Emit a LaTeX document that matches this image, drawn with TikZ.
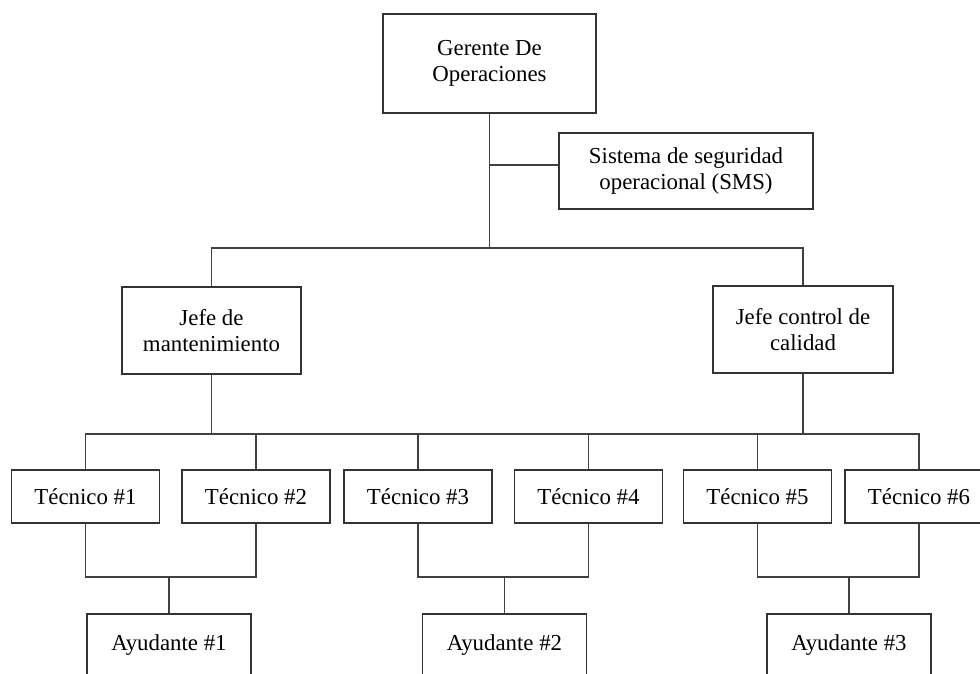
\documentclass[tikz,border=0pt]{standalone}
\usepackage{fontspec}
\setmainfont{Liberation Serif}
\usepackage{tikz}

\tikzset{
	caja/.style={draw=black!80, line width=1pt, align=center, inner sep=0pt, font=\fontsize{13}{15}\selectfont},
	tecnico/.style={caja, minimum width=2.96cm, minimum height=1.06cm},
	ayudante/.style={caja, minimum width=3.28cm, minimum height=1.24cm},
	linea/.style={draw=black!75, line width=1pt}
}

\begin{document}
\begin{tikzpicture}[x=0.02cm,y=-0.02cm]
	\useasboundingbox (0,0) rectangle (980,673);
	\node [caja,minimum width=4.26cm,minimum height=1.98cm] (ger) at (489.5,63.5) {Gerente De\\Operaciones};
	\node [caja,minimum width=5.08cm,minimum height=1.52cm] (sms) at (686,171) {Sistema de seguridad\\operacional (SMS)};
	\node [caja,minimum width=3.58cm,minimum height=1.74cm] (jm) at (211.5,330.5) {Jefe de\\mantenimiento};
	\node [caja,minimum width=3.6cm,minimum height=1.74cm] (jc) at (803,329.5) {Jefe control de\\calidad};
	\node [tecnico] (t1) at (85.5,496.5) {Técnico \#1};
	\node [tecnico] (t2) at (256,496.5) {Técnico \#2};
	\node [tecnico] (t3) at (418,496.5) {Técnico \#3};
	\node [tecnico] (t4) at (588.5,496.5) {Técnico \#4};
	\node [tecnico] (t5) at (757.5,496.5) {Técnico \#5};
	\node [tecnico] (t6) at (919,496.5) {Técnico \#6};
	\node [ayudante] (a1) at (169,645) {Ayudante \#1};
	\node [ayudante] (a2) at (504.5,645) {Ayudante \#2};
	\node [ayudante] (a3) at (849,645) {Ayudante \#3};

	\coordinate (bus1) at (489.5,248);
	\coordinate (bus2) at (500,434);
	\draw [linea] (ger.south) -- (bus1);
	\draw [linea] (ger.south |- 0,165) -- (sms.west |- 0,165);
	\draw [linea] (jm.north) |- (bus1) -| (jc.north);
	\draw [linea] (jm.south) -- (jm.south |- bus2);
	\draw [linea] (jc.south) -- (jc.south |- bus2);
	\draw [linea] (t1.north) |- (bus2) -| (t6.north);
	\foreach \t in {t2,t3,t4,t5}
		\draw [linea] (\t.north) -- (\t.north |- bus2);
	\foreach \l/\r/\a in {t1/t2/a1,t3/t4/a2,t5/t6/a3}
		\draw [linea] (\l.south) |- (\a.north |- 0,577) -| (\r.south) (\a.north |- 0,577) -- (\a.north);
\end{tikzpicture}
\end{document}
